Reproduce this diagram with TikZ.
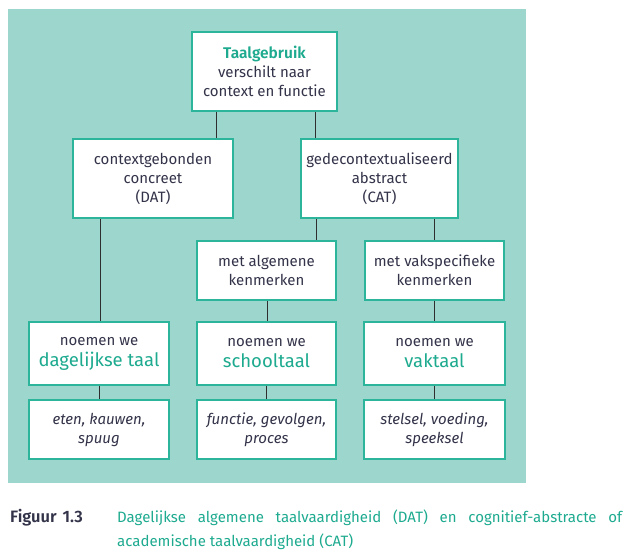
\documentclass[tikz,border=0pt]{standalone}
\usepackage{fontspec}
\setmainfont{Fira Sans}[BoldFont={Fira Sans SemiBold}]
\usetikzlibrary{calc}
\definecolor{bgteal}{HTML}{9DD6CC}
\definecolor{boxteal}{HTML}{2DB59B}
\definecolor{txtteal}{HTML}{1DAA8F}
\definecolor{txtdark}{HTML}{33334A}
\definecolor{linedark}{HTML}{2E2E2E}
\newcommand{\bodyfont}{\fontsize{15}{19}\selectfont}
\tikzset{
  box/.style={draw=boxteal, line width=1.1pt, fill=white, align=center,
    text=txtdark, inner sep=0pt, font=\bodyfont},
  exbox/.style={box, font=\bodyfont\itshape},
  conn/.style={draw=linedark, line width=0.9pt}
}
\newcommand{\hl}[1]{{\color{txtteal}\fontsize{18.5}{22}\selectfont #1}}
\begin{document}
\begin{tikzpicture}[x=1pt,y=-1pt]
\useasboundingbox (0,0) rectangle (630,560);
\fill[bgteal] (8,9) rectangle (526,483);
% level 1
\node[box, minimum width=145pt, minimum height=79pt] (top) at (264.5,71.5)
  {{\color{txtteal}\bfseries\fontsize{15.5}{19}\selectfont Taalgebruik}\\verschilt naar\\context en functie};
% level 2
\node[box, minimum width=160pt, minimum height=79pt] (dat) at (153,178.5)
  {contextgebonden\\concreet\\(DAT)};
\node[box, minimum width=157pt, minimum height=79pt] (cat) at (379.5,178.5)
  {gedecontextualiseerd\\abstract\\(CAT)};
% level 3
\node[box, minimum width=139pt, minimum height=59pt] (alg) at (266.5,270.5)
  {met algemene\\kenmerken};
\node[box, minimum width=139pt, minimum height=59pt] (vak) at (434.5,270.5)
  {met vakspecifieke\\kenmerken};
% level 4
\node[box, minimum width=140pt, minimum height=63pt] (dt) at (99,353.5)
  {noemen we\\[2pt]\hl{dagelijkse taal}};
\node[box, minimum width=139pt, minimum height=63pt] (st) at (266.5,353.5)
  {noemen we\\[2pt]\hl{schooltaal}};
\node[box, minimum width=141pt, minimum height=63pt] (vt) at (434.5,353.5)
  {noemen we\\[2pt]\hl{vaktaal}};
% level 5
\node[exbox, minimum width=140pt, minimum height=59pt] (ex1) at (99,429.5)
  {eten, kauwen,\\spuug};
\node[exbox, minimum width=139pt, minimum height=59pt] (ex2) at (266.5,429.5)
  {functie, gevolgen,\\proces};
\node[exbox, minimum width=141pt, minimum height=59pt] (ex3) at (434.5,429.5)
  {stelsel, voeding,\\speeksel};
% connector x positions
\coordinate (xa) at (216,0);
\coordinate (xb) at (315,0);
\coordinate (xc) at (100,0);
\coordinate (xd) at (316,0);
\coordinate (xe) at (434,0);
\coordinate (xf) at (267,0);
\draw[conn] (top.south -| xa) -- (dat.north -| xa);
\draw[conn] (top.south -| xb) -- (cat.north -| xb);
\draw[conn] (dat.south -| xc) -- (dt.north -| xc);
\draw[conn] (cat.south -| xd) -- (alg.north -| xd);
\draw[conn] (cat.south -| xe) -- (vak.north -| xe);
\draw[conn] (alg.south -| xf) -- (st.north -| xf);
\draw[conn] (vak.south -| xe) -- (vt.north -| xe);
\draw[conn] (dt) -- (ex1);
\draw[conn] (st) -- (ex2);
\draw[conn] (vt) -- (ex3);
% caption
\node[anchor=base west, text=txtdark, inner sep=0pt] (fig) at (10,522)
  {\fontsize{16.5}{18}\selectfont\bfseries Figuur\hspace{6pt}1.3};
\node[anchor=base west, text=txtteal, text width=505pt, align=justify, inner sep=0pt,
  font=\fontsize{15}{24}\selectfont] (cap) at (117,522)
  {Dagelijkse algemene taalvaardigheid (DAT) en cognitief-abstracte of academische taalvaardigheid (CAT)};
\end{tikzpicture}
\end{document}
